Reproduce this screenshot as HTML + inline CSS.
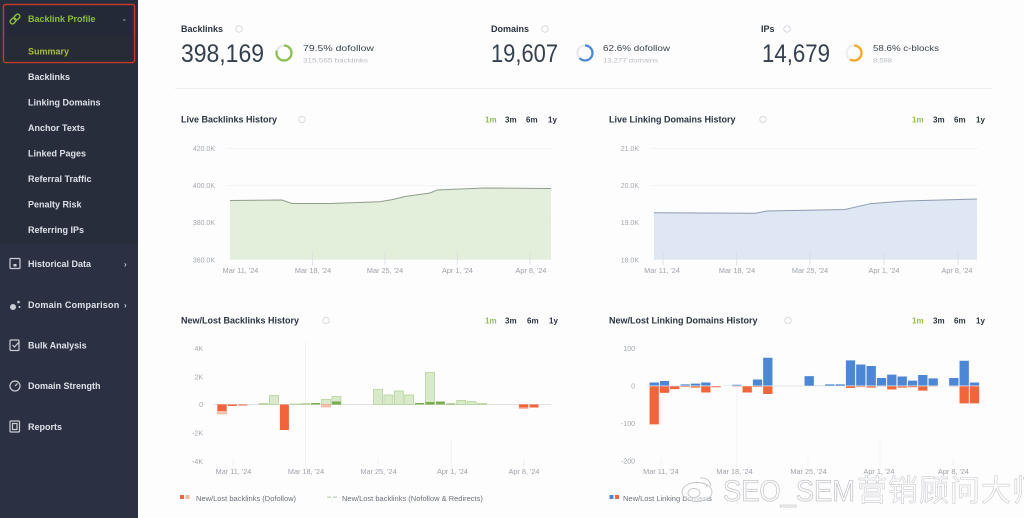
<!DOCTYPE html>
<html><head><meta charset="utf-8">
<style>
html,body{margin:0;padding:0;background:#fdfdfe;}
svg{display:block;}
text{font-family:"Liberation Sans",Arial,sans-serif;}
.sb{fill:#dde2e9;font-size:9px;font-weight:bold;}
.ttl{fill:#2b3340;font-size:9px;font-weight:bold;}
.btn{font-size:8px;font-weight:bold;fill:#2b3340;}
.yl{font-size:7px;fill:#a3a8ae;}
.xl{font-size:7.3px;fill:#9da2a9;}
.lg{font-size:7.5px;fill:#6b7179;}
</style></head>
<body>
<svg width="1024" height="518" viewBox="0 0 1024 518" xmlns="http://www.w3.org/2000/svg">
<rect x="0" y="0" width="1024" height="518" fill="#fdfdfe"/>

<!-- Sidebar -->
<rect x="0" y="0" width="138" height="518" fill="#2b3142"/>
<rect x="0" y="0" width="138" height="244" fill="#272d3b"/>
<rect x="3.5" y="4.5" width="131" height="58" rx="2" fill="#232936" stroke="#c13b2c" stroke-width="1.5"/>
<rect x="4.3" y="36" width="129.4" height="25.7" fill="#262b36"/>
<g transform="translate(15,19) rotate(-45)" fill="none" stroke="#8fbf3f" stroke-width="1.4">
<rect x="-6" y="-2.2" width="6.5" height="4.4" rx="2.2"/>
<rect x="-0.5" y="-2.2" width="6.5" height="4.4" rx="2.2"/>
</g>
<text x="28" y="22" style="font-size:9px;font-weight:bold;fill:#8cbd3c;">Backlink Profile</text>
<text x="123" y="22" style="font-size:8px;font-weight:bold;fill:#b9c0ca;">-</text>
<text x="28" y="54.5" style="font-size:9px;fill:#a9bb45;font-weight:bold;">Summary</text>

<text class="sb" x="28" y="80">Backlinks</text>
<text class="sb" x="28" y="105.5">Linking Domains</text>
<text class="sb" x="28" y="131">Anchor Texts</text>
<text class="sb" x="28" y="156.5">Linked Pages</text>
<text class="sb" x="28" y="182">Referral Traffic</text>
<text class="sb" x="28" y="207.5">Penalty Risk</text>
<text class="sb" x="28" y="233">Referring IPs</text>

<g fill="none" stroke="#c9ced6" stroke-width="1.2">
<rect x="10" y="258.5" width="10" height="10" rx="1"/>
<rect x="13.5" y="264" width="3" height="2.5" fill="#c9ced6" stroke="none"/>
<circle cx="13" cy="307" r="3" fill="#c9ced6" stroke="none"/>
<circle cx="18.5" cy="302" r="1.3" fill="#c9ced6" stroke="none"/>
<circle cx="19.5" cy="307" r="1" fill="#c9ced6" stroke="none"/>
<rect x="10" y="340" width="9" height="10.5" rx="1"/>
<path d="M12.5 345 l2 2 l4.5 -5"/>
<circle cx="15" cy="386" r="5"/>
<path d="M15 386 l2.5 -2.5"/>
<rect x="10" y="421" width="9.5" height="11" rx="1"/>
<rect x="12.5" y="423.5" width="4.5" height="6"/>
</g>
<text class="sb" x="28" y="267">Historical Data</text>
<text x="124" y="267" style="font-size:8px;fill:#c9ced6;font-weight:bold;">›</text>
<text class="sb" x="28" y="308" style="letter-spacing:0.2px">Domain Comparison</text>
<text x="124" y="308" style="font-size:8px;fill:#c9ced6;font-weight:bold;">›</text>
<text class="sb" x="28" y="348.5">Bulk Analysis</text>
<text class="sb" x="28" y="389">Domain Strength</text>
<text class="sb" x="28" y="430">Reports</text>

<!-- KPI row -->
<text x="181" y="32" style="font-size:9px;font-weight:bold;fill:#2b3340;">Backlinks</text>
<circle cx="239" cy="29" r="3.2" fill="none" stroke="#c7cbd0" stroke-width="0.7"/>
<text x="181" y="62" style="font-size:25px;fill:#35404f;" textLength="83" lengthAdjust="spacingAndGlyphs">398,169</text>
<circle cx="284" cy="53" r="7.5" fill="none" stroke="#e7e9ec" stroke-width="2.3"/>
<circle cx="284" cy="53" r="7.5" fill="none" stroke="#8cc152" stroke-width="2.3" stroke-dasharray="37.5 47.1" transform="rotate(-90 284 53)"/>
<text x="303" y="51" style="font-size:8.5px;fill:#3b434e;" textLength="71" lengthAdjust="spacingAndGlyphs">79.5% dofollow</text>
<text x="303" y="62.5" style="font-size:6.3px;fill:#b8bcc2;" textLength="65" lengthAdjust="spacingAndGlyphs">315,565 backlinks</text>

<text x="491" y="32" style="font-size:9px;font-weight:bold;fill:#2b3340;">Domains</text>
<circle cx="545" cy="29" r="3.2" fill="none" stroke="#c7cbd0" stroke-width="0.7"/>
<text x="491" y="62" style="font-size:25px;fill:#35404f;" textLength="67" lengthAdjust="spacingAndGlyphs">19,607</text>
<circle cx="585" cy="53" r="7.5" fill="none" stroke="#e7e9ec" stroke-width="2.3"/>
<circle cx="585" cy="53" r="7.5" fill="none" stroke="#4a89dc" stroke-width="2.3" stroke-dasharray="29.5 47.1" transform="rotate(-90 585 53)"/>
<text x="603" y="51" style="font-size:8.5px;fill:#3b434e;" textLength="67" lengthAdjust="spacingAndGlyphs">62.6% dofollow</text>
<text x="603" y="62.5" style="font-size:6.3px;fill:#b8bcc2;" textLength="55" lengthAdjust="spacingAndGlyphs">13,277 domains</text>

<text x="761" y="32" style="font-size:9px;font-weight:bold;fill:#2b3340;">IPs</text>
<circle cx="787" cy="29" r="3.2" fill="none" stroke="#c7cbd0" stroke-width="0.7"/>
<text x="762" y="62" style="font-size:25px;fill:#35404f;" textLength="68" lengthAdjust="spacingAndGlyphs">14,679</text>
<circle cx="854" cy="53" r="7.5" fill="none" stroke="#eceef0" stroke-width="2.3"/>
<circle cx="854" cy="53" r="7.5" fill="none" stroke="#f5a623" stroke-width="2.3" stroke-dasharray="27.6 47.1" transform="rotate(-90 854 53)"/>
<text x="873" y="51" style="font-size:8.5px;fill:#3b434e;" textLength="66" lengthAdjust="spacingAndGlyphs">58.6% c-blocks</text>
<text x="873" y="62.5" style="font-size:6.3px;fill:#b8bcc2;" textLength="19" lengthAdjust="spacingAndGlyphs">8,598</text>

<line x1="175" y1="88.5" x2="992" y2="88.5" stroke="#eceef1" stroke-width="1"/>

<!-- Chart 1 -->
<text class="ttl" x="181" y="122.5">Live Backlinks History</text>
<circle cx="302" cy="119.5" r="3.2" fill="none" stroke="#c7cbd0" stroke-width="0.7"/>
<text class="btn" x="485" y="122.5" style="fill:#8fbf4f;">1m</text>
<text class="btn" x="505" y="122.5">3m</text>
<text class="btn" x="526" y="122.5">6m</text>
<text class="btn" x="548" y="122.5">1y</text>
<g class="yl" text-anchor="end">
<text x="215" y="151">420.0K</text>
<text x="215" y="188">400.0K</text>
<text x="215" y="225">380.0K</text>
<text x="215" y="262.5">360.0K</text>
</g>
<g stroke="#f3f4f6" stroke-width="1">
<line x1="228" y1="148.5" x2="552" y2="148.5"/>
<line x1="228" y1="185.5" x2="552" y2="185.5"/>
<line x1="228" y1="222.5" x2="552" y2="222.5"/>
</g>
<path d="M230 200.5 L282 200 L292 203.5 L330 203.5 L380 201.7 L393 199.5 L405 196.5 L430 193 L437 190 L460 189 L485 188 L551 188.5 L551 259.7 L230 259.7 Z" fill="#e3efdb"/>
<path d="M230 200.5 L282 200 L292 203.5 L330 203.5 L380 201.7 L393 199.5 L405 196.5 L430 193 L437 190 L460 189 L485 188 L551 188.5" fill="none" stroke="#8f9d8a" stroke-width="1"/>
<g stroke="#d9dcdf" stroke-width="0.8">
<line x1="312.7" y1="252" x2="312.7" y2="265"/>
<line x1="385" y1="252" x2="385" y2="265"/>
<line x1="457.3" y1="252" x2="457.3" y2="265"/>
<line x1="530" y1="252" x2="530" y2="265"/>
</g>
<g class="xl" text-anchor="middle">
<text x="240.5" y="273">Mar 11, '24</text>
<text x="313" y="273">Mar 18, '24</text>
<text x="385" y="273">Mar 25, '24</text>
<text x="457.5" y="273">Apr 1, '24</text>
<text x="531" y="273">Apr 8, '24</text>
</g>

<!-- Chart 2 -->
<text class="ttl" x="609" y="122.5">Live Linking Domains History</text>
<circle cx="763" cy="119.5" r="3.2" fill="none" stroke="#c7cbd0" stroke-width="0.7"/>
<text class="btn" x="912" y="122.5" style="fill:#8fbf4f;">1m</text>
<text class="btn" x="933" y="122.5">3m</text>
<text class="btn" x="954" y="122.5">6m</text>
<text class="btn" x="976" y="122.5">1y</text>
<g class="yl" text-anchor="end">
<text x="639" y="151">21.0K</text>
<text x="639" y="188">20.0K</text>
<text x="639" y="225">19.0K</text>
<text x="639" y="262.5">18.0K</text>
</g>
<g stroke="#f3f4f6" stroke-width="1">
<line x1="652" y1="148.5" x2="978" y2="148.5"/>
<line x1="652" y1="185.5" x2="978" y2="185.5"/>
<line x1="652" y1="222.5" x2="978" y2="222.5"/>
</g>
<path d="M654 212.7 L755 213.3 L767 211 L845 209.5 L870 203.7 L905 201 L977 199 L977 259.7 L654 259.7 Z" fill="#dee7f3"/>
<path d="M654 212.7 L755 213.3 L767 211 L845 209.5 L870 203.7 L905 201 L977 199" fill="none" stroke="#8d9bb0" stroke-width="1"/>
<g stroke="#d9dcdf" stroke-width="0.8">
<line x1="663" y1="252" x2="663" y2="265"/>
<line x1="736.7" y1="252" x2="736.7" y2="265"/>
<line x1="810" y1="252" x2="810" y2="265"/>
<line x1="884" y1="252" x2="884" y2="265"/>
<line x1="958" y1="252" x2="958" y2="265"/>
</g>
<g class="xl" text-anchor="middle">
<text x="662" y="273">Mar 11, '24</text>
<text x="737" y="273">Mar 18, '24</text>
<text x="810" y="273">Mar 25, '24</text>
<text x="884" y="273">Apr 1, '24</text>
<text x="957" y="273">Apr 8, '24</text>
</g>

<!-- Chart 3 -->
<text class="ttl" x="181" y="323.5">New/Lost Backlinks History</text>
<circle cx="326" cy="320.5" r="3.2" fill="none" stroke="#c7cbd0" stroke-width="0.7"/>
<text class="btn" x="485" y="323.5" style="fill:#8fbf4f;">1m</text>
<text class="btn" x="505" y="323.5">3m</text>
<text class="btn" x="527" y="323.5">6m</text>
<text class="btn" x="549" y="323.5">1y</text>
<g class="yl" text-anchor="end">
<text x="203" y="351">4K</text>
<text x="203" y="379.5">2K</text>
<text x="203" y="407">0</text>
<text x="203" y="435.5">-2K</text>
<text x="203" y="464">-4K</text>
</g>
<g stroke="#eeeff1" stroke-width="0.8">
<line x1="305.5" y1="342" x2="305.5" y2="468"/>
<line x1="451.5" y1="440" x2="451.5" y2="468"/>
<line x1="233" y1="458" x2="233" y2="466"/>
<line x1="378" y1="458" x2="378" y2="466"/>
<line x1="524" y1="458" x2="524" y2="466"/>
</g>
<line x1="213" y1="404.5" x2="551" y2="404.5" stroke="#d6d9dc" stroke-width="0.8"/>
<g fill="#d8eac9" stroke="#b4d39c" stroke-width="0.8">
<rect x="259.1" y="403.5" width="9" height="1"/>
<rect x="269.5" y="395.5" width="9" height="9"/>
<rect x="290.3" y="404" width="9" height="0.5"/>
<rect x="300.7" y="403.5" width="9" height="1"/>
<rect x="321.5" y="399.5" width="9" height="5"/>
<rect x="331.9" y="396.5" width="9" height="8"/>
<rect x="373.5" y="389.5" width="9" height="15"/>
<rect x="383.9" y="395" width="9" height="9.5"/>
<rect x="394.3" y="391" width="9" height="13.5"/>
<rect x="404.7" y="395" width="9" height="9.5"/>
<rect x="425.5" y="372.5" width="9" height="32"/>
<rect x="456.7" y="400.5" width="9" height="4"/>
<rect x="467.1" y="401.5" width="9" height="3"/>
<rect x="477.5" y="403.5" width="9" height="1"/>
</g>
<g fill="#79ad4e">
<rect x="311.1" y="403" width="9" height="1.5"/>
<rect x="331.9" y="401.5" width="9" height="3"/>
<rect x="415.1" y="403" width="9" height="1.5"/>
<rect x="425.5" y="402" width="9" height="2.5"/>
<rect x="435.9" y="401.5" width="9" height="3"/>
<rect x="446.3" y="403.5" width="9" height="1"/>
</g>
<g fill="#f7c3b0" stroke="#f0a58a" stroke-width="0.6">
<rect x="217.5" y="404.5" width="9" height="9.5"/>
<rect x="321.5" y="404.5" width="9" height="2.5"/>
<rect x="519.1" y="404.5" width="9" height="4"/>
</g>
<g fill="#f1633a">
<rect x="217.5" y="404.5" width="9" height="6.5"/>
<rect x="227.9" y="404.5" width="9" height="1.5"/>
<rect x="238.3" y="404.5" width="9" height="1"/>
<rect x="279.9" y="404.5" width="9" height="25.5"/>
<rect x="519.1" y="404.5" width="9" height="3"/>
<rect x="529.5" y="404.5" width="9" height="3"/>
</g>
<g class="xl" text-anchor="middle">
<text x="233.5" y="474">Mar 11, '24</text>
<text x="306" y="474">Mar 18, '24</text>
<text x="378.5" y="474">Mar 25, '24</text>
<text x="452.5" y="474">Apr 1, '24</text>
<text x="524" y="474">Apr 8, '24</text>
</g>
<rect x="180" y="495" width="4" height="4" fill="#f1633a"/>
<rect x="185.5" y="495" width="4" height="4" fill="#f7b9a2"/>
<text class="lg" x="196" y="501">New/Lost backlinks (Dofollow)</text>
<rect x="327" y="496.5" width="4" height="1.5" fill="#c5d9b4"/>
<rect x="333" y="496.5" width="4" height="1.5" fill="#cdd0d4"/>
<text class="lg" x="342" y="501">New/Lost backlinks (Nofollow &amp; Redirects)</text>

<!-- Chart 4 -->
<text class="ttl" x="609" y="323.5">New/Lost Linking Domains History</text>
<circle cx="788" cy="320.5" r="3.2" fill="none" stroke="#c7cbd0" stroke-width="0.7"/>
<text class="btn" x="912" y="323.5" style="fill:#8fbf4f;">1m</text>
<text class="btn" x="933" y="323.5">3m</text>
<text class="btn" x="954" y="323.5">6m</text>
<text class="btn" x="976" y="323.5">1y</text>
<g class="yl" text-anchor="end">
<text x="635" y="351">100</text>
<text x="635" y="388.5">0</text>
<text x="635" y="426">-100</text>
<text x="635" y="463.5">-200</text>
</g>
<g stroke="#eeeff1" stroke-width="0.8">
<line x1="737" y1="388" x2="737" y2="468"/>
<line x1="880" y1="440" x2="880" y2="468"/>
<line x1="661" y1="458" x2="661" y2="466"/>
<line x1="808" y1="458" x2="808" y2="466"/>
<line x1="953" y1="458" x2="953" y2="466"/>
</g>
<line x1="647" y1="386" x2="979" y2="386" stroke="#d6d9dc" stroke-width="0.8"/>
<g fill="#4b87d4" stroke="#fff" stroke-width="0.5">
<rect x="649.3" y="382.25" width="9.8" height="3.75"/>
<rect x="659.6" y="380.75" width="9.8" height="5.25"/>
<rect x="669.9" y="385.25" width="9.8" height="0.75"/>
<rect x="680.3" y="384.1" width="9.8" height="1.9"/>
<rect x="690.6" y="383.4" width="9.8" height="2.6"/>
<rect x="700.9" y="382.25" width="9.8" height="3.75"/>
<rect x="711.3" y="385.6" width="9.8" height="0.4"/>
<rect x="721.6" y="385.25" width="9.8" height="0.75"/>
<rect x="731.9" y="384.5" width="9.8" height="1.5"/>
<rect x="752.6" y="379.25" width="9.8" height="6.75"/>
<rect x="762.9" y="357.5" width="9.8" height="28.5"/>
<rect x="804.3" y="375.9" width="9.8" height="10.1"/>
<rect x="814.6" y="385.25" width="9.8" height="0.75"/>
<rect x="824.9" y="384.1" width="9.8" height="1.9"/>
<rect x="835.3" y="384.1" width="9.8" height="1.9"/>
<rect x="845.6" y="360.1" width="9.8" height="25.9"/>
<rect x="855.9" y="364.25" width="9.8" height="21.75"/>
<rect x="866.3" y="365.75" width="9.8" height="20.25"/>
<rect x="876.6" y="377.75" width="9.8" height="8.25"/>
<rect x="886.9" y="374.4" width="9.8" height="11.6"/>
<rect x="897.3" y="376.25" width="9.8" height="9.75"/>
<rect x="907.6" y="380.4" width="9.8" height="5.6"/>
<rect x="917.9" y="374.75" width="9.8" height="11.25"/>
<rect x="928.3" y="378.1" width="9.8" height="7.9"/>
<rect x="938.6" y="385.6" width="9.8" height="0.4"/>
<rect x="948.9" y="377.75" width="9.8" height="8.25"/>
<rect x="959.3" y="360.5" width="9.8" height="25.5"/>
<rect x="969.6" y="382.25" width="9.8" height="3.75"/>
</g>
<g fill="#f0653b" stroke="#fff" stroke-width="0.5">
<rect x="649.3" y="386" width="9.8" height="38.6"/>
<rect x="659.6" y="386" width="9.8" height="7.1"/>
<rect x="669.9" y="386" width="9.8" height="3.4"/>
<rect x="680.3" y="386" width="9.8" height="1.1"/>
<rect x="690.6" y="386" width="9.8" height="1.9"/>
<rect x="700.9" y="386" width="9.8" height="6.75"/>
<rect x="711.3" y="386" width="9.8" height="1.5"/>
<rect x="721.6" y="386" width="9.8" height="0.5"/>
<rect x="731.9" y="386" width="9.8" height="0.75"/>
<rect x="742.3" y="386" width="9.8" height="6.75"/>
<rect x="752.6" y="386" width="9.8" height="1.1"/>
<rect x="762.9" y="386" width="9.8" height="8.25"/>
<rect x="845.6" y="386" width="9.8" height="2.25"/>
<rect x="855.9" y="386" width="9.8" height="1.1"/>
<rect x="866.3" y="386" width="9.8" height="1.9"/>
<rect x="876.6" y="386" width="9.8" height="0.75"/>
<rect x="886.9" y="386" width="9.8" height="3.75"/>
<rect x="897.3" y="386" width="9.8" height="1.9"/>
<rect x="907.6" y="386" width="9.8" height="1.5"/>
<rect x="917.9" y="386" width="9.8" height="4.9"/>
<rect x="928.3" y="386" width="9.8" height="0.75"/>
<rect x="948.9" y="386" width="9.8" height="0.75"/>
<rect x="959.3" y="386" width="9.8" height="17.6"/>
<rect x="969.6" y="386" width="9.8" height="17.6"/>
</g>
<g class="xl" text-anchor="middle">
<text x="661" y="474">Mar 11, '24</text>
<text x="734.5" y="474">Mar 18, '24</text>
<text x="808.5" y="474">Mar 25, '24</text>
<text x="879" y="474">Apr 1, '24</text>
<text x="953.5" y="474">Apr 8, '24</text>
</g>
<rect x="609.5" y="495" width="4" height="4" fill="#4b87d4"/>
<rect x="615" y="495" width="4" height="4" fill="#f0653b"/>
<text class="lg" x="623" y="501">New/Lost Linking Domains</text>

<!-- watermark -->
<g fill="#ffffff" fill-opacity="0.55" stroke="#c3c5c8" stroke-width="0.9">
<ellipse cx="697" cy="492" rx="15" ry="9.5"/>
<ellipse cx="694" cy="493" rx="6" ry="4.5"/>
<path d="M700 478 q9 -1 11 8" fill="none"/>
<path d="M702 483 q4 0 5 4" fill="none"/>
</g>
<text x="723" y="501" textLength="132" lengthAdjust="spacingAndGlyphs" style="font-size:30px;fill:#ffffff;fill-opacity:0.6;stroke:#c3c5c8;stroke-width:0.8;">SEO_SEM</text>
<text x="857" y="501" style="font-family:'Liberation Sans','Noto Sans CJK SC',sans-serif;font-size:30px;fill:#ffffff;fill-opacity:0.7;stroke:#c8cacd;stroke-width:0.6;letter-spacing:1px;">营销顾问大师</text>
</svg>
</body></html>
